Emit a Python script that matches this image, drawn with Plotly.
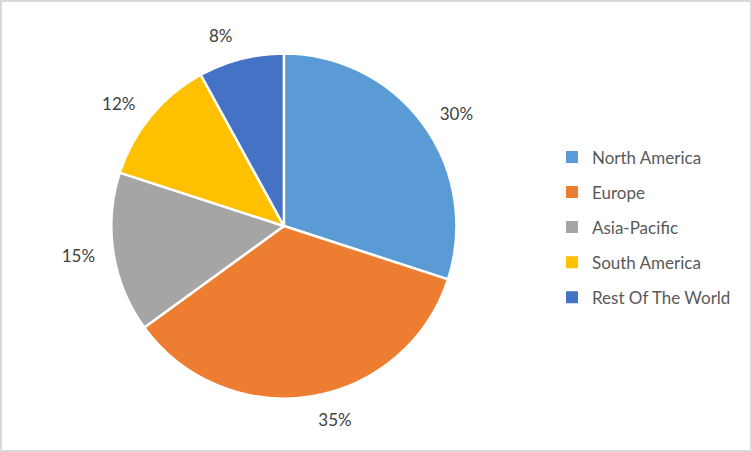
import plotly.graph_objects as go

regions = ["North America", "Europe", "Asia-Pacific", "South America", "Rest Of The World"]
shares = [30, 35, 15, 12, 8]
colors = ["#5B9BD5", "#ED7D31", "#A5A5A5", "#FFC000", "#4472C4"]

FONT = "Lato, Open Sans, sans-serif"

fig = go.Figure()
# transparent, slightly larger pie carrying the outside percentage labels
fig.add_trace(go.Pie(
    labels=regions, values=shares, sort=False, direction="clockwise", rotation=0,
    marker=dict(colors=["rgba(0,0,0,0)"] * len(regions), line=dict(width=0)),
    textposition="outside", texttemplate="%{value}%",
    textfont=dict(family=FONT, size=17, color="#404040"),
    showlegend=False, automargin=False, hoverinfo="skip",
    domain=dict(x=[0.1303, 0.625], y=[0.0885, 0.9115]),
))
fig.add_trace(go.Pie(
    labels=regions, values=shares, sort=False, direction="clockwise", rotation=0,
    marker=dict(colors=colors, line=dict(color="white", width=2.5)),
    textinfo="none",
    showlegend=False, automargin=False,
    domain=dict(x=[0.148, 0.607], y=[0.117, 0.883]),
    hoverinfo="label+percent",
))

for name, c in zip(regions, colors):
    fig.add_trace(go.Scatter(
        x=[None], y=[None], mode="markers", name=name, legendgroup=name,
        marker=dict(symbol="square", size=8, color=c),
    ))

fig.update_layout(
    width=752, height=452,
    margin=dict(l=0, r=0, t=0, b=0, autoexpand=False),
    paper_bgcolor="white", plot_bgcolor="white",
    xaxis=dict(visible=False), yaxis=dict(visible=False),
    legend=dict(x=0.734, y=0.497, xanchor="left", yanchor="middle",
                font=dict(family=FONT, size=17, color="#595959"),
                tracegroupgap=10, itemsizing="constant"),
    shapes=[dict(type="rect", xref="paper", yref="paper", x0=0, y0=0, x1=1, y1=1,
                 line=dict(color="#D9D9D9", width=4), fillcolor="rgba(0,0,0,0)")],
)
fig.write_html("out.html", config={"displayModeBar": False},
               post_script="document.body.style.margin='0';document.body.style.overflow='hidden';")
